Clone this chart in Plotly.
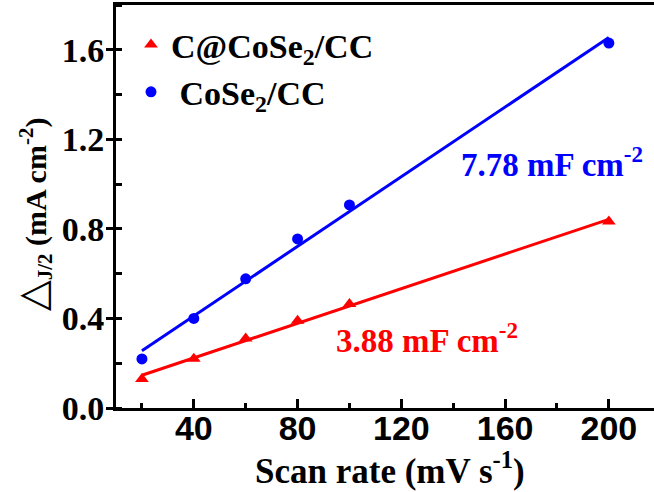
import numpy as np
import plotly.graph_objects as go

# ---- data ----
scan_rate = [20, 40, 60, 80, 100, 200]
dj_c_cose2 = [0.13, 0.22, 0.31, 0.39, 0.465, 0.833]   # C@CoSe2/CC (red triangles)
dj_cose2 = [0.219, 0.40, 0.577, 0.755, 0.907, 1.63]     # CoSe2/CC (blue circles)
x_tick_vals = [40, 80, 120, 160, 200]
y_tick_vals = [0.0, 0.4, 0.8, 1.2, 1.6]
label_c_cose2 = "<b>C@CoSe<sub>2</sub>/CC</b>"
label_cose2 = "<b>\u00a0CoSe<sub>2</sub>/CC</b>"
slope_label_c = "<b>3.88 mF cm<sup>-2</sup></b>"
slope_label_b = "<b>7.78 mF cm<sup>-2</sup></b>"

RED = "#FF0000"
BLUE = "#0000FF"
SERIF = "Liberation Serif"
SANS = "Liberation Sans"

W, H = 654, 492
L, R, T, B = 116, 0, 5, 84
pw = W - L - R
ph = H - T - B

def px_x(p):
    return (p - L) / pw

def px_y(p):
    return (H - B - p) / ph

fig = go.Figure()

# linear fits
xs = np.array(scan_rate, dtype=float)
for ys, col in ((dj_c_cose2, RED), (dj_cose2, BLUE)):
    k, b0 = np.polyfit(xs, np.array(ys), 1)
    xf = np.array([xs.min(), xs.max()])
    fig.add_trace(go.Scatter(x=xf, y=k * xf + b0, mode="lines",
                             line=dict(color=col, width=3), showlegend=False,
                             hoverinfo="skip"))

fig.add_trace(go.Scatter(x=scan_rate, y=dj_c_cose2, mode="markers", name=label_c_cose2,
                         marker=dict(symbol="triangle-up", size=12, color=RED)))
fig.add_trace(go.Scatter(x=scan_rate, y=dj_cose2, mode="markers", name=label_cose2,
                         marker=dict(symbol="circle", size=11, color=BLUE)))

fig.update_layout(
    width=W, height=H,
    margin=dict(l=L, r=R, t=T, b=B, autoexpand=False),
    paper_bgcolor="white", plot_bgcolor="white",
    showlegend=True,
    legend=dict(x=px_x(131), y=px_y(16), xanchor="left", yanchor="top",
                bgcolor="rgba(0,0,0,0)",
                font=dict(family=SERIF, size=34, color="black"),
                itemwidth=30, tracegroupgap=0),
    xaxis=dict(range=[10, 10 + (W - L - R) / 2.594], showgrid=False, zeroline=False,
               automargin=False,
               showline=True, linecolor="black", linewidth=3, mirror=True,
               tickmode="array", tickvals=x_tick_vals,
               ticks="inside", ticklen=9, tickwidth=2.5, tickcolor="black",
               ticklabelstandoff=-12,
               minor=dict(dtick=20, tick0=0, ticks="inside", ticklen=5, tickwidth=2.5,
                          tickcolor="black", showgrid=False),
               tickfont=dict(family=SANS, size=34, color="black", weight="bold")),
    yaxis=dict(range=[0, 1.8], showgrid=False, zeroline=False,
               automargin=False,
               showline=True, linecolor="black", linewidth=3, mirror=False,
               tickmode="array", tickvals=y_tick_vals, tickformat=".1f",
               ticks="outside", ticklen=7, tickwidth=2.5, tickcolor="black",
               ticklabelstandoff=-5,
               minor=dict(dtick=0.2, tick0=0, ticks="inside", ticklen=6, tickwidth=2.5,
                          tickcolor="black", showgrid=False),
               tickfont=dict(family=SERIF, size=34, color="black", weight="bold")),
)

fig.add_annotation(xref="paper", yref="paper", x=px_x(390), y=px_y(468),
                   text="<b>Scan rate (mV s<sup>-1</sup>)</b>", showarrow=False,
                   xanchor="center", yanchor="middle",
                   font=dict(family=SERIF, size=35, color="black"))
fig.add_annotation(xref="paper", yref="paper", x=px_x(33), y=px_y(215),
                   text="<span style=\"font-family:DejaVu Sans;font-weight:normal;font-size:40px\">\u25b3</span><b><sub>J/2</sub> (mA cm<sup>-2</sup>)</b>",
                   showarrow=False, textangle=-90, xanchor="center", yanchor="middle",
                   font=dict(family=SERIF, size=30, color="black"))
fig.add_annotation(xref="paper", yref="paper", x=px_x(459), y=px_y(162),
                   text=slope_label_b, showarrow=False, xanchor="left", yanchor="middle",
                   font=dict(family=SERIF, size=33, color=BLUE))
fig.add_annotation(xref="paper", yref="paper", x=px_x(334), y=px_y(338),
                   text=slope_label_c, showarrow=False, xanchor="left", yanchor="middle",
                   font=dict(family=SERIF, size=33, color=RED))

fig.write_html("out.html",
               config={"displayModeBar": False},
               post_script="document.body.style.margin='0';document.body.style.overflow='hidden';")
